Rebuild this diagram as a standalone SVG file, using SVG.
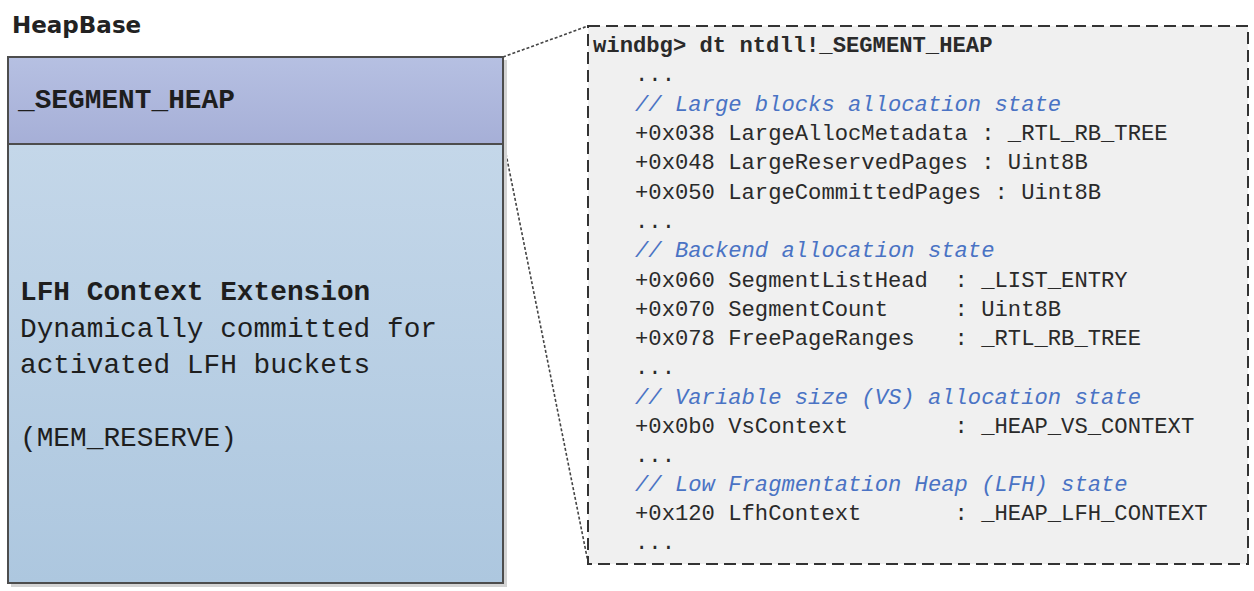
<svg xmlns="http://www.w3.org/2000/svg" width="1254" height="591" viewBox="0 0 1254 591">
<defs>
<linearGradient id="gTop" x1="0" y1="0" x2="0" y2="1"><stop offset="0" stop-color="#b6c0e2"/><stop offset="1" stop-color="#a6afd7"/></linearGradient>
<linearGradient id="gLow" x1="0" y1="0" x2="0" y2="1"><stop offset="0" stop-color="#c4d7e9"/><stop offset="1" stop-color="#adc7df"/></linearGradient>
<style>
.mono{font-family:"Liberation Mono","DejaVu Sans Mono",monospace}
.big{font-size:27.8px;fill:#1e1e1e}
.code{font-size:22.2px;fill:#2a2a2a}
.cmt{font-style:italic;fill:#4a73c4}
.b{font-weight:bold}
.box{stroke:#4d4d4d;stroke-width:2}
.dot{fill:none;stroke:#444;stroke-width:1.6;stroke-dasharray:3 2}
</style>
</defs>
<rect width="1254" height="591" fill="#ffffff"/>
<text x="12" y="33" font-family="DejaVu Sans, sans-serif" font-weight="bold" font-size="23" fill="#222">HeapBase</text>
<g id="connectors">
<line class="dot" x1="503" y1="57" x2="588" y2="26"/>
<line class="dot" x1="504" y1="144" x2="588" y2="562"/>
</g>
<g id="heap">
<rect x="11" y="60" width="496" height="527" fill="#d4d4d4"/>
<rect x="8" y="57" width="495" height="87" fill="url(#gTop)" class="box"/>
<rect x="8" y="144" width="495" height="439" fill="url(#gLow)" class="box"/>
<text x="18" y="108" class="mono big b">_SEGMENT_HEAP</text>
<text x="20" y="300" class="mono big b">LFH Context Extension</text>
<text x="20" y="337" class="mono big">Dynamically committed for</text>
<text x="20" y="373" class="mono big">activated LFH buckets</text>
<text x="20" y="446" class="mono big">(MEM_RESERVE)</text>
</g>
<g id="windbg">
<rect x="588" y="26" width="660" height="538" fill="#f0f0f0" stroke="#333" stroke-width="2" stroke-dasharray="12 6"/>
<text x="593" y="52" class="mono code b">windbg&gt; dt ntdll!_SEGMENT_HEAP</text>
<g class="mono code">
<text x="635" y="81">...</text>
<text x="635" y="111" class="cmt">// Large blocks allocation state</text>
<text x="635" y="140">+0x038 LargeAllocMetadata : _RTL_RB_TREE</text>
<text x="635" y="169">+0x048 LargeReservedPages : Uint8B</text>
<text x="635" y="199">+0x050 LargeCommittedPages : Uint8B</text>
<text x="635" y="228">...</text>
<text x="635" y="257" class="cmt">// Backend allocation state</text>
<text x="635" y="287">+0x060 SegmentListHead&#160;&#160;: _LIST_ENTRY</text>
<text x="635" y="316">+0x070 SegmentCount&#160;&#160;&#160;&#160;&#160;: Uint8B</text>
<text x="635" y="345">+0x078 FreePageRanges&#160;&#160;&#160;: _RTL_RB_TREE</text>
<text x="635" y="374">...</text>
<text x="635" y="404" class="cmt">// Variable size (VS) allocation state</text>
<text x="635" y="433">+0x0b0 VsContext&#160;&#160;&#160;&#160;&#160;&#160;&#160;&#160;: _HEAP_VS_CONTEXT</text>
<text x="635" y="462">...</text>
<text x="635" y="491" class="cmt">// Low Fragmentation Heap (LFH) state</text>
<text x="635" y="520">+0x120 LfhContext&#160;&#160;&#160;&#160;&#160;&#160;&#160;: _HEAP_LFH_CONTEXT</text>
<text x="635" y="549">...</text>
</g>
</g>
</svg>
